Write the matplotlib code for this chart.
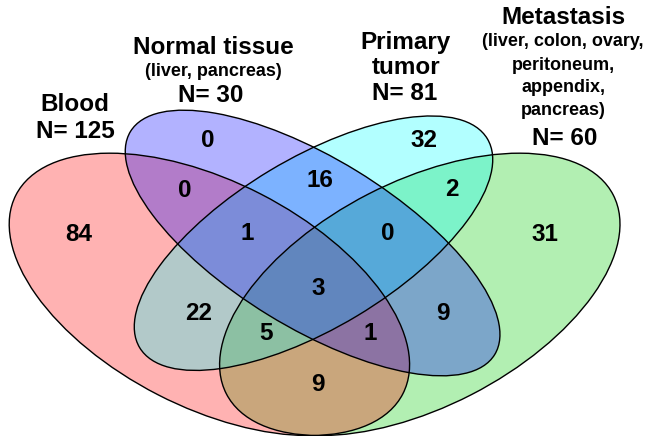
import matplotlib.pyplot as plt
from matplotlib.patches import Ellipse

plt.rcParams['font.family'] = ['Liberation Sans', 'DejaVu Sans']

# sets and their titles
sets = ['Blood', 'Normal tissue', 'Primary tumor', 'Metastasis']
totals = [125, 30, 81, 60]

# counts for every region (B = blood, N = normal, P = primary, M = metastasis)
regions = ['B', 'N', 'P', 'M', 'BN', 'NP', 'PM', 'BP', 'NM', 'BM',
           'BNP', 'NPM', 'BPM', 'BNM', 'BNPM']
counts = [84, 0, 32, 31, 0, 16, 2, 22, 9, 9, 1, 0, 5, 1, 3]

# where each region's count sits (pixel coords)
label_pos = {
    'B': (79, 234), 'N': (208, 140), 'P': (424, 140), 'M': (545, 234),
    'BN': (185, 190), 'NP': (320, 180), 'PM': (452, 189), 'BP': (199, 313),
    'NM': (443, 313), 'BM': (318, 384), 'BNP': (247, 233), 'NPM': (388, 233),
    'BPM': (266, 333), 'BNM': (370, 333), 'BNPM': (318, 288),
}

# ellipse layout: centre, width, height, angle, colour
shapes = {
    'Metastasis': ((419.8, 294.4), 225.5, 435.0, 62.8, (0, 0.8, 0)),
    'Blood': ((209.4, 294.4), 225.5, 435.0, 117.2, (1, 0, 0)),
    'Primary tumor': ((313.5, 243.2), 169.5, 405.6, 59.0, (0, 1, 1)),
    'Normal tissue': ((312.6, 243.0), 169.0, 427.1, 121.5, (0, 0, 1)),
}

fig = plt.figure(figsize=(6.48, 4.36), dpi=100)
ax = fig.add_axes([0, 0, 1, 1])
ax.set_xlim(0, 648)
ax.set_ylim(436, 0)
ax.axis('off')

for name, (c, w, h, a, col) in shapes.items():
    ax.add_patch(Ellipse(c, w, h, angle=a, fc=col, alpha=0.3, ec='none'))
for name, (c, w, h, a, col) in shapes.items():
    ax.add_patch(Ellipse(c, w, h, angle=a, fc='none', ec='black', lw=1))

for r, n in zip(regions, counts):
    x, y = label_pos[r]
    ax.text(x, y, str(n), ha='center', va='center', fontsize=17.5, fontweight='bold')

big = dict(ha='center', va='center', fontsize=17.5, fontweight='bold')
small = dict(ha='center', va='center', fontsize=13, fontweight='bold')

# Blood
ax.text(75, 104, sets[0], **big)
ax.text(75, 131, f'N= {totals[0]}', **big)
# Normal tissue
ax.text(213, 47, sets[1], **big)
ax.text(213, 72, '(liver, pancreas)', **small)
ax.text(211, 95, f'N= {totals[1]}', **big)
# Primary tumor
ax.text(406, 42, 'Primary', **big)
ax.text(406, 67, 'tumor', **big)
ax.text(405, 93, f'N= {totals[2]}', **big)
# Metastasis
ax.text(563, 18, sets[3], **big)
ax.text(563, 42, '(liver, colon, ovary,', **small)
ax.text(563, 65, 'peritoneum,', **small)
ax.text(563, 88, 'appendix,', **small)
ax.text(563, 110, 'pancreas)', **small)
ax.text(565, 138, f'N= {totals[3]}', **big)

fig.savefig('out.png')
